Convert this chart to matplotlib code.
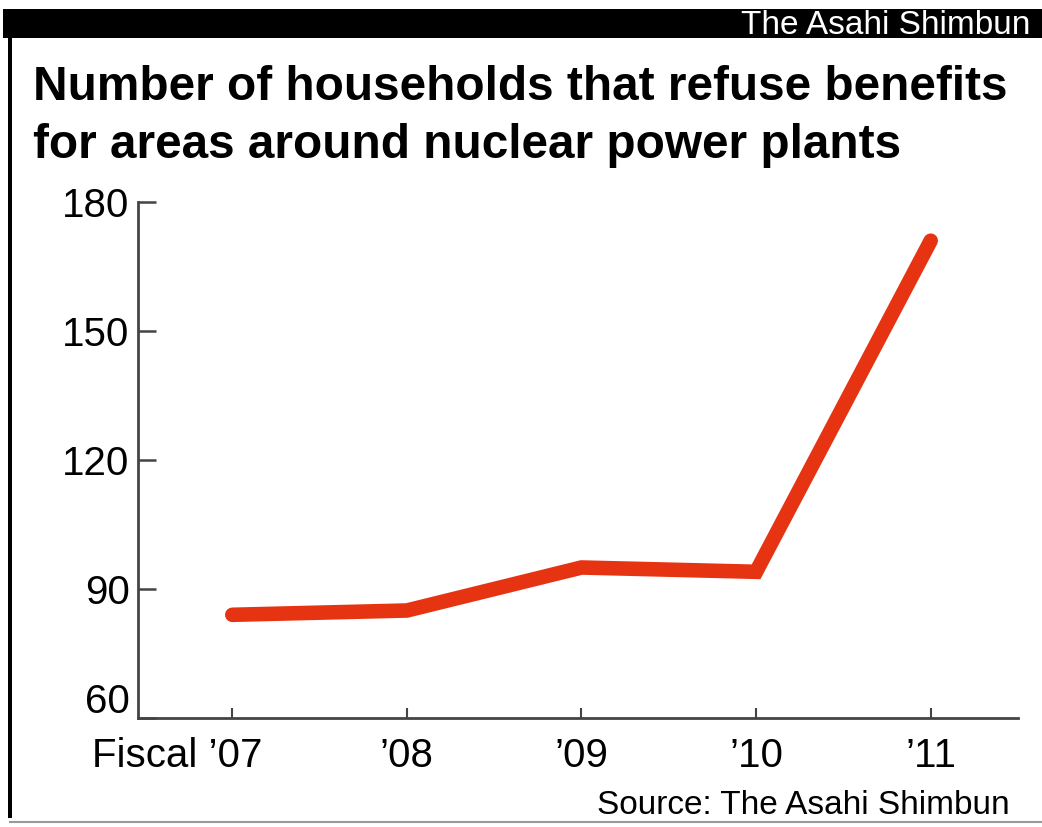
import matplotlib
matplotlib.use("Agg")
import matplotlib.pyplot as plt
from matplotlib.transforms import ScaledTranslation
from matplotlib.patches import Rectangle
from matplotlib.lines import Line2D

years = ["Fiscal \u201907", "\u201908", "\u201909", "\u201910", "\u201911"]
households = [84, 85, 95, 94, 171]
yticks = [60, 90, 120, 150, 180]

NARROW = ["Liberation Sans Narrow", "Liberation Sans", "DejaVu Sans"]
BOLD = ["Liberation Sans", "DejaVu Sans"]

W, H = 1042, 827
fig = plt.figure(figsize=(W / 100, H / 100), dpi=100)
fig.patch.set_facecolor("white")

# frame: top black bar, left border, bottom line
fig.add_artist(Rectangle((3 / W, 1 - 38 / H), 1 - 3 / W, 29 / H, transform=fig.transFigure,
                         facecolor="black", edgecolor="none"))
fig.add_artist(Rectangle((8 / W, 1 - 818 / H), 4 / W, 780 / H, transform=fig.transFigure,
                         facecolor="black", edgecolor="none"))
fig.add_artist(Line2D([10 / W, 1], [1 - 822 / H, 1 - 822 / H], transform=fig.transFigure,
                      color="#999999", lw=1.5))
fig.text(1030 / W, 1 - 25 / H, "The Asahi Shimbun", color="white", fontsize=24,
         family=NARROW, ha="right", va="center")

fig.text(33 / W, 1 - 87 / H, "Number of households that refuse benefits",
         fontsize=34.4, fontweight="bold", family=BOLD, ha="left", va="center")
fig.text(33 / W, 1 - 145 / H, "for areas around nuclear power plants",
         fontsize=34.4, fontweight="bold", family=BOLD, ha="left", va="center")

ax = fig.add_axes([138 / W, 1 - 718 / H, 880 / W, 516 / H])
x = list(range(len(years)))
ax.plot(x, households, color="#E63312", lw=10.5, solid_capstyle="round",
        solid_joinstyle="miter")
ax.set_xlim(-0.54, 4.5)
ax.set_ylim(60, 180)
ax.set_yticks(yticks)
ax.set_yticklabels([str(v) for v in yticks], family=NARROW, fontsize=29)
ax.set_xticks(x)
ax.set_xticklabels(years, family=NARROW, fontsize=29)
for sp in ["top", "right"]:
    ax.spines[sp].set_visible(False)
for sp in ["left", "bottom"]:
    ax.spines[sp].set_color("#444444")
    ax.spines[sp].set_linewidth(2)
ax.tick_params(axis="y", direction="in", length=13, width=1.8, color="#444444", pad=6)
ax.tick_params(axis="x", direction="in", length=7, width=1.5, color="#444444", pad=14)
labs = ax.get_xticklabels()
labs[0].set_ha("right")
labs[0].set_transform(labs[0].get_transform() + ScaledTranslation(30 / 100, 0, fig.dpi_scale_trans))
ylabs = ax.get_yticklabels()
ylabs[0].set_va("bottom")
ylabs[0].set_transform(ylabs[0].get_transform() + ScaledTranslation(0, -3 / 100, fig.dpi_scale_trans))

fig.text(1010 / W, 1 - 805 / H, "Source: The Asahi Shimbun", fontsize=24,
         family=NARROW, ha="right", va="center")

fig.savefig("out.png", dpi=100)
